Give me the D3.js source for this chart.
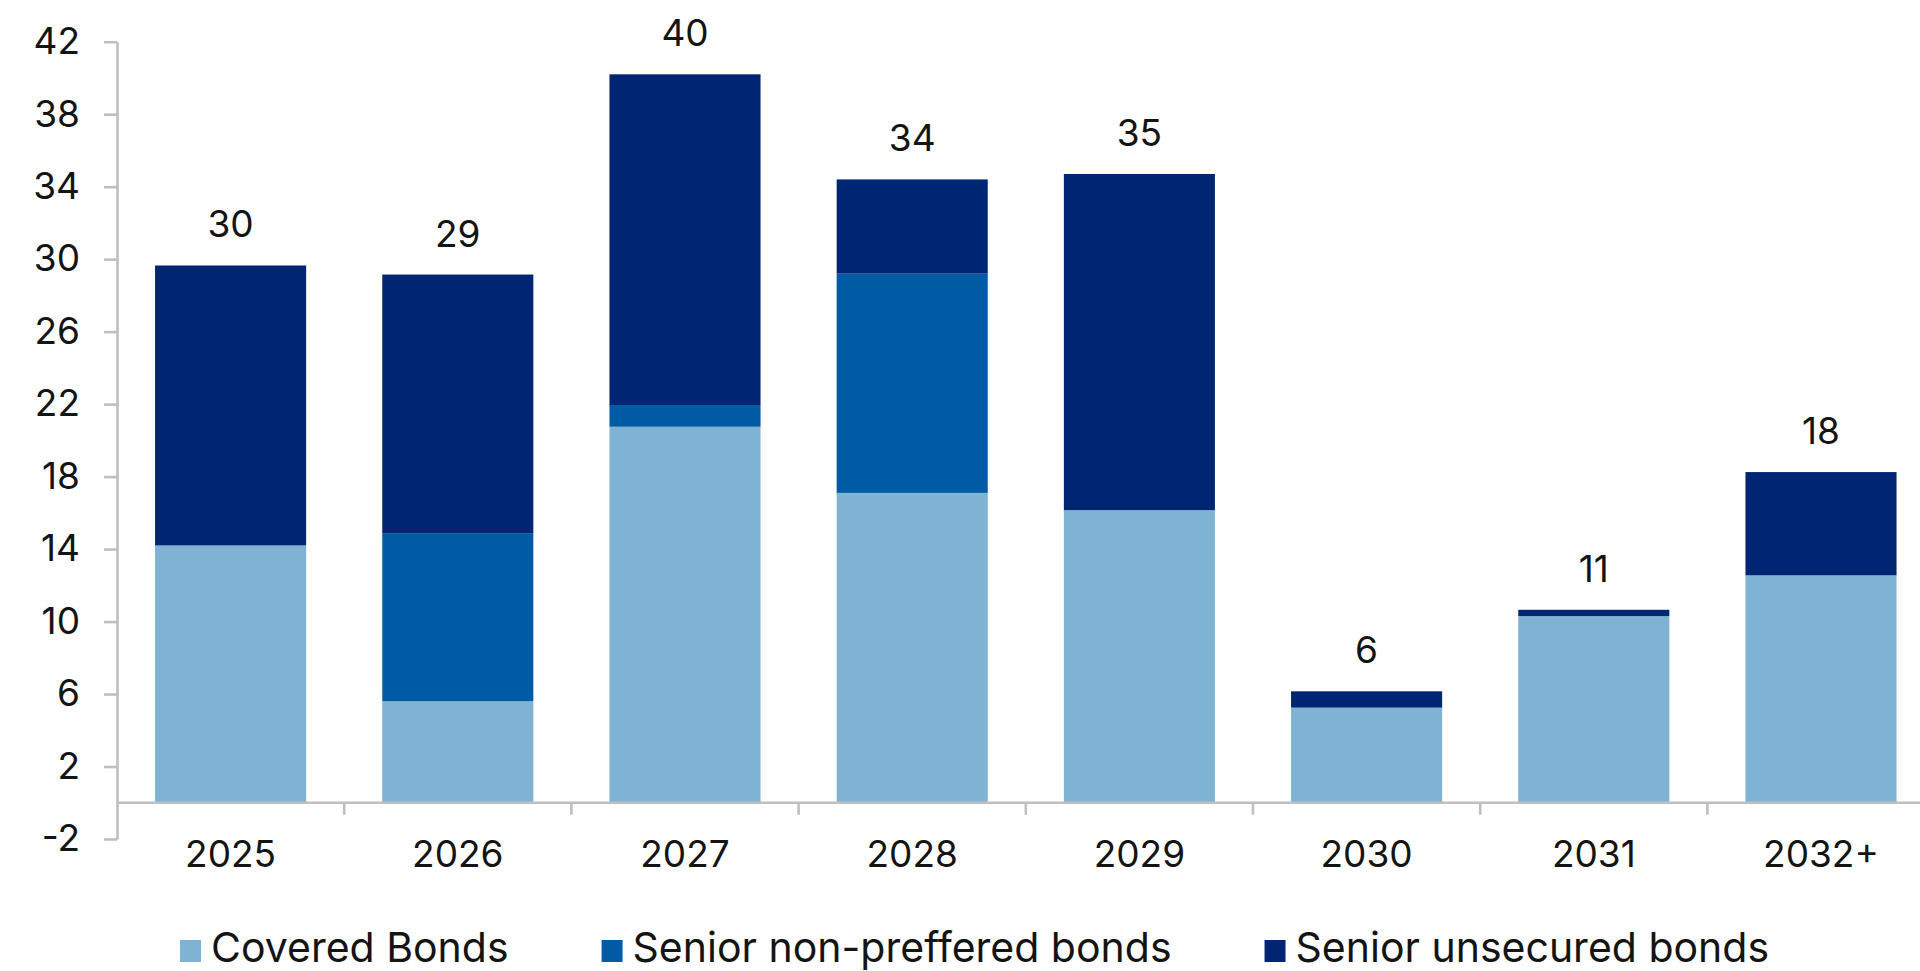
<!DOCTYPE html>
<html>
<head>
<meta charset="utf-8">
<script src="https://cdn.jsdelivr.net/npm/d3@7"></script>
<style>
  html, body { margin: 0; padding: 0; background: #fff; }
  svg { display: block; }
  text { font-family: Inter, "Noto Sans", sans-serif; fill: #141414; }
</style>
</head>
<body>
<svg id="chart" width="1920" height="971"></svg>
<script>
// Data

var years = ["2025", "2026", "2027", "2028", "2029", "2030", "2031", "2032+"];
var covered = [14.2, 5.6, 20.75, 17.1, 16.15, 5.25, 10.3, 12.55];
var seniorNonPreferred = [0, 9.25, 1.2, 12.1, 0, 0, 0, 0];
var seniorUnsecured = [15.45, 14.3, 18.25, 5.2, 18.55, 0.9, 0.35, 5.7];
var yTicks = [-2, 2, 6, 10, 14, 18, 22, 26, 30, 34, 38, 42];

var seriesNames = ["Covered Bonds", "Senior non-preffered bonds", "Senior unsecured bonds"];
var seriesColours = ["#7fb3d3", "#005ba5", "#002673"];

var rows = years.map(function(y, i) {
  return { year: y, cb: covered[i], snp: seniorNonPreferred[i], su: seniorUnsecured[i] };
});

var svg = d3.select("#chart"),
    width = +svg.attr("width"),
    height = +svg.attr("height");

var plotLeft = 117, plotTop = 41.7, plotBottom = 839;
var axisGrey = "#bfbfbf";

var x = d3.scaleBand()
    .domain(years)
    .range([plotLeft, plotLeft + 8 * 227.2])
    .paddingInner(0.335)
    .paddingOuter(0.1675);

var y = d3.scaleLinear()
    .domain([-2, 42])
    .range([plotBottom, plotTop]);

// Stack the three series

var stack = d3.stack().keys(["cb", "snp", "su"]);
var stacked = stack(rows);

var g = svg.append("g");

g.append("g")
  .selectAll("g")
  .data(stacked)
  .enter().append("g")
    .attr("fill", function(d, i) { return seriesColours[i]; })
  .selectAll("rect")
  .data(function(d) { return d; })
  .enter().append("rect")
    .attr("x", function(d) { return x(d.data.year); })
    .attr("width", x.bandwidth())
    .attr("y", function(d) { return y(d[1]); })
    .attr("height", function(d) { return Math.max(0, y(d[0]) - y(d[1])); });

// Y axis (plain hyphen for negatives, like the original)

var yAxis = g.append("g")
    .attr("transform", "translate(" + plotLeft + ",0)")
    .call(d3.axisLeft(y)
      .tickValues(yTicks)
      .tickFormat(function(d) { return String(d); })
      .tickSize(13).tickPadding(24).tickSizeOuter(0));

yAxis.select(".domain").attr("stroke", axisGrey).attr("stroke-width", 2.6);
yAxis.selectAll(".tick line").attr("stroke", axisGrey).attr("stroke-width", 2.6);
yAxis.selectAll(".tick text")
    .attr("font-size", 37)
    .attr("font-family", "Inter, sans-serif")
    .attr("fill", "#141414");

// X axis on the zero line, ticks between categories

var y0 = y(0);
g.append("line")
    .attr("x1", plotLeft).attr("x2", width)
    .attr("y1", y0).attr("y2", y0)
    .attr("stroke", axisGrey).attr("stroke-width", 2.6);

g.append("g")
  .selectAll("line")
  .data(d3.range(1, years.length + 1))
  .enter().append("line")
    .attr("x1", function(i) { return plotLeft + i * x.step(); })
    .attr("x2", function(i) { return plotLeft + i * x.step(); })
    .attr("y1", y0)
    .attr("y2", y0 + 12)
    .attr("stroke", axisGrey).attr("stroke-width", 2.6);

var xAxis = g.append("g")
    .attr("transform", "translate(0," + y0 + ")")
    .call(d3.axisBottom(x).tickSize(0).tickPadding(38));

xAxis.select(".domain").remove();
xAxis.selectAll(".tick text")
    .attr("font-size", 37)
    .attr("font-family", "Inter, sans-serif")
    .attr("fill", "#141414");

// Total labels above each bar

g.append("g")
  .selectAll("text")
  .data(rows)
  .enter().append("text")
    .attr("x", function(d) { return x(d.year) + x.bandwidth() / 2; })
    .attr("y", function(d) { return y(d.cb + d.snp + d.su) - 28; })
    .attr("text-anchor", "middle")
    .attr("font-size", 37)
    .text(function(d) { return Math.round(d.cb + d.snp + d.su); });

// Legend

var legend = svg.append("g").attr("class", "legend");
var lx = 180, legendBase = 962;
seriesNames.forEach(function(name, i) {
  legend.append("rect")
      .attr("x", lx).attr("y", legendBase - 22)
      .attr("width", 21).attr("height", 22)
      .attr("fill", seriesColours[i]);
  var t = legend.append("text")
      .attr("x", lx + 31)
      .attr("y", legendBase)
      .attr("font-size", 41)
      .text(name);
  lx = lx + 31 + t.node().getComputedTextLength() + 93;
});
</script>
</body>
</html>
